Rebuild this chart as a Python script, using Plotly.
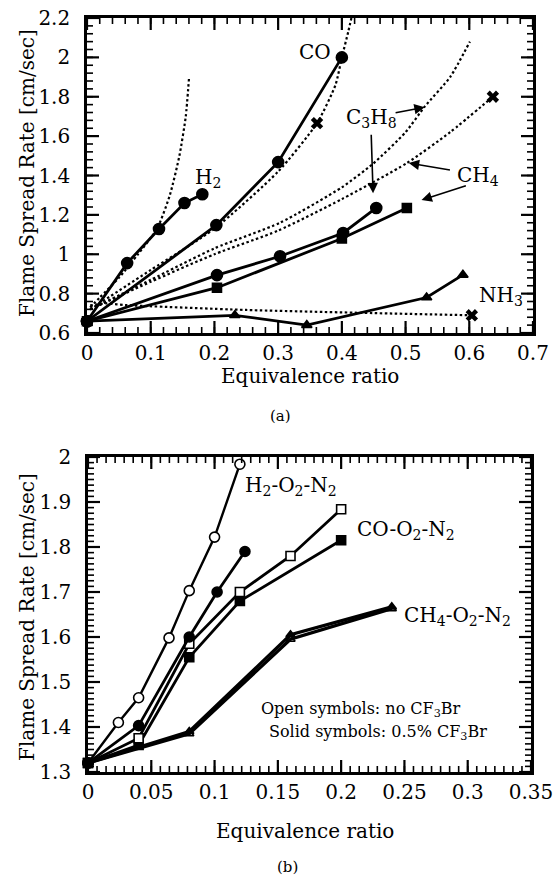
import plotly.graph_objects as go

# ---------- (a) data ----------
h2_x = [0, 0.063, 0.113, 0.153, 0.181]
h2_y = [0.66, 0.955, 1.128, 1.26, 1.305]
h2_dot_x = [0.005, 0.02, 0.05, 0.08, 0.11, 0.13, 0.145, 0.155, 0.16]
h2_dot_y = [0.73, 0.78, 0.88, 1.0, 1.13, 1.30, 1.50, 1.70, 1.89]

co_x = [0, 0.203, 0.30, 0.40]
co_y = [0.66, 1.148, 1.468, 2.0]
co_dot_x = [0.005, 0.1, 0.2, 0.3, 0.361, 0.39, 0.40, 0.41, 0.415]
co_dot_y = [0.72, 0.92, 1.13, 1.42, 1.666, 1.86, 2.0, 2.13, 2.2]

c3h8_x = [0, 0.204, 0.303, 0.402, 0.454]
c3h8_y = [0.66, 0.894, 0.99, 1.108, 1.235]
c3h8_dot_x = [0.005, 0.1, 0.2, 0.303, 0.4, 0.449, 0.5, 0.53, 0.57, 0.601]
c3h8_dot_y = [0.72, 0.87, 1.03, 1.16, 1.34, 1.46, 1.62, 1.75, 1.90, 2.08]

ch4_x = [0, 0.204, 0.40, 0.502]
ch4_y = [0.66, 0.83, 1.08, 1.235]
ch4_dot_x = [0.005, 0.1, 0.2, 0.3, 0.4, 0.502, 0.57, 0.637]
ch4_dot_y = [0.72, 0.86, 1.0, 1.12, 1.28, 1.463, 1.62, 1.80]

nh3_x = [0, 0.232, 0.345, 0.533, 0.59]
nh3_y = [0.66, 0.69, 0.64, 0.78, 0.895]
nh3_dot_x = [0.005, 0.03, 0.06, 0.25, 0.604]
nh3_dot_y = [0.74, 0.75, 0.742, 0.717, 0.69]

xmark_x = [0.361, 0.637, 0.604]
xmark_y = [1.666, 1.80, 0.69]

# ---------- (b) data ----------
h2o_x = [0, 0.024, 0.04, 0.064, 0.08, 0.1, 0.12]
h2o_y = [1.32, 1.41, 1.465, 1.598, 1.703, 1.822, 1.984]
h2s_x = [0, 0.04, 0.08, 0.102, 0.124]
h2s_y = [1.32, 1.403, 1.60, 1.70, 1.79]

coo_x = [0, 0.04, 0.08, 0.12, 0.16, 0.2]
coo_y = [1.32, 1.375, 1.585, 1.70, 1.78, 1.884]
cos_x = [0, 0.04, 0.08, 0.12, 0.2]
cos_y = [1.32, 1.36, 1.555, 1.68, 1.815]

ch4o_x = [0, 0.08, 0.16, 0.24]
ch4o_y = [1.32, 1.385, 1.595, 1.663]
ch4s_x = [0, 0.08, 0.16, 0.24]
ch4s_y = [1.32, 1.39, 1.605, 1.667]

FONT = "DejaVu Serif"
W, H = 560, 881

fig = go.Figure()

def solid(x, y, sym, size, xa, ya, fill="black", lw=2.8):
    fig.add_trace(go.Scatter(
        x=x, y=y, mode="lines+markers", xaxis=xa, yaxis=ya, cliponaxis=False,
        line=dict(color="black", width=lw),
        marker=dict(symbol=sym, size=size, color=fill,
                    line=dict(color="black", width=1.6)),
        showlegend=False))

def dotted(x, y):
    fig.add_trace(go.Scatter(
        x=x, y=y, mode="lines", xaxis="x", yaxis="y",
        line=dict(color="black", width=2.2, dash="2.5px,2.5px", shape="spline", smoothing=0.6),
        showlegend=False))

dotted(h2_dot_x, h2_dot_y)
dotted(co_dot_x, co_dot_y)
dotted(c3h8_dot_x, c3h8_dot_y)
dotted(ch4_dot_x, ch4_dot_y)
dotted(nh3_dot_x, nh3_dot_y)
solid(h2_x, h2_y, "circle", 11, "x", "y")
solid(co_x, co_y, "circle", 11, "x", "y")
solid(c3h8_x, c3h8_y, "circle", 11, "x", "y")
solid(ch4_x, ch4_y, "square", 9, "x", "y")
solid(nh3_x, nh3_y, "triangle-up", 9, "x", "y")
fig.add_trace(go.Scatter(x=xmark_x, y=xmark_y, mode="markers", xaxis="x", yaxis="y",
                         marker=dict(symbol="x", size=11, color="black"),
                         showlegend=False, cliponaxis=False))

solid(ch4o_x, ch4o_y, "triangle-up-open", 8, "x2", "y2", lw=3.2)
solid(ch4s_x, ch4s_y, "triangle-up", 8, "x2", "y2", lw=3.2)
solid(cos_x, cos_y, "square", 9, "x2", "y2")
solid(coo_x, coo_y, "square", 9, "x2", "y2", fill="white")
solid(h2s_x, h2s_y, "circle", 10, "x2", "y2")
solid(h2o_x, h2o_y, "circle", 10, "x2", "y2", fill="white", lw=2.4)
fig.add_trace(go.Scatter(x=[0], y=[1.32], mode="markers", xaxis="x2", yaxis="y2",
                         marker=dict(symbol="circle", size=12, color="black"),
                         showlegend=False, cliponaxis=False))

def axis_style(rng, dtick, domain, anchor, suffix=""):
    return dict(range=rng, domain=domain, anchor=anchor, dtick=dtick, automargin=False,
                showgrid=False, zeroline=False, showline=True, linecolor="black",
                linewidth=2.6, mirror=True, ticks="", tickformat="~g", ticksuffix=suffix,
                tickfont=dict(family=FONT, size=20, color="black"))

XR_A, YR_A = [0, 0.7], [0.6, 2.2]
XR_B, YR_B = [0, 0.35], [1.3, 2.0]

fig.update_layout(
    template="none",
    width=W, height=H, margin=dict(l=0, r=0, t=0, b=0),
    paper_bgcolor="white", plot_bgcolor="white",
    xaxis=axis_style(XR_A, 0.1, [87/W, 533/W], "y"),
    yaxis=axis_style(YR_A, 0.2, [1-333/H, 1-18/H], "x", "\u2002"),
    xaxis2=axis_style(XR_B, 0.05, [88/W, 531/W], "y2"),
    yaxis2=axis_style(YR_B, 0.1, [1-772/H, 1-457/H], "x2", "\u2002"),
)

# inward tick marks on all four sides, placed through the axes
def tick_vals(lo, hi, step):
    n = int(round((hi - lo) / step))
    return [lo + i * step for i in range(n + 1)]

shapes = []
def add_ticks(xref, yref, xr, yr, xmaj, xmin, ymaj, ymin):
    for vals, L, w in ((tick_vals(xr[0], xr[1], xmin), 6, 1.6), (tick_vals(xr[0], xr[1], xmaj), 12, 2.2)):
        for v in vals:
            for anc, sgn in ((yr[0], 1), (yr[1], -1)):
                shapes.append(dict(type="line", xref=xref, yref=yref, x0=v, x1=v,
                                   ysizemode="pixel", yanchor=anc, y0=0, y1=sgn * L,
                                   line=dict(color="black", width=w)))
    for vals, L, w in ((tick_vals(yr[0], yr[1], ymin), 6, 1.6), (tick_vals(yr[0], yr[1], ymaj), 12, 2.2)):
        for v in vals:
            for anc, sgn in ((xr[0], 1), (xr[1], -1)):
                shapes.append(dict(type="line", xref=xref, yref=yref, y0=v, y1=v,
                                   xsizemode="pixel", xanchor=anc, x0=0, x1=sgn * L,
                                   line=dict(color="black", width=w)))

add_ticks("x", "y", XR_A, YR_A, 0.1, 0.02, 0.2, 0.04)
add_ticks("x2", "y2", XR_B, YR_B, 0.05, 0.05 / 7, 0.1, 0.0125)

ann = []
def txt(x, y, s, size=20, xref="x", yref="y", **kw):
    ann.append(dict(x=x, y=y, xref=xref, yref=yref, text=s, showarrow=False,
                    xanchor="center", yanchor="middle",
                    font=dict(family=FONT, size=size, color="black"), **kw))

def arrow(tx, ty, hx, hy):
    ann.append(dict(x=hx, y=hy, ax=tx, ay=ty, xref="x", yref="y", axref="x", ayref="y",
                    text="", showarrow=True, arrowhead=2, arrowsize=1.3, arrowwidth=1.6,
                    arrowcolor="black", standoff=0, startstandoff=0))

txt(0.358, 2.026, "CO")
txt(0.19, 1.387, "H<sub>2</sub>")
txt(0.447, 1.69, "C<sub>3</sub>H<sub>8</sub>")
txt(0.614, 1.40, "CH<sub>4</sub>")
txt(0.65, 0.79, "NH<sub>3</sub>")
arrow(0.482, 1.717, 0.53, 1.747)
arrow(0.446, 1.615, 0.449, 1.31)
arrow(0.572, 1.427, 0.505, 1.463)
arrow(0.597, 1.35, 0.525, 1.275)

txt(0.160, 1.935, "H<sub>2</sub>-O<sub>2</sub>-N<sub>2</sub>", xref="x2", yref="y2")
txt(0.251, 1.838, "CO-O<sub>2</sub>-N<sub>2</sub>", xref="x2", yref="y2")
txt(0.292, 1.647, "CH<sub>4</sub>-O<sub>2</sub>-N<sub>2</sub>", xref="x2", yref="y2")
txt(0.216, 1.44, "Open symbols: no CF<sub>3</sub>Br", size=16, xref="x2", yref="y2")
txt(0.229, 1.388, "Solid symbols: 0.5% CF<sub>3</sub>Br", size=16, xref="x2", yref="y2")

txt(310/W, 1-376/H, "Equivalence ratio", xref="paper", yref="paper")
txt(305/W, 1-831/H, "Equivalence ratio", xref="paper", yref="paper")
txt(27/W, 1-173/H, "Flame Spread Rate [cm/sec]", xref="paper", yref="paper", textangle=-90)
txt(27/W, 1-617/H, "Flame Spread Rate [cm/sec]", xref="paper", yref="paper", textangle=-90)
txt(280/W, 1-416/H, "(a)", size=15, xref="paper", yref="paper")
txt(287/W, 1-867/H, "(b)", size=15, xref="paper", yref="paper")

fig.update_layout(annotations=ann, shapes=shapes)
fig.write_html("out.html")
